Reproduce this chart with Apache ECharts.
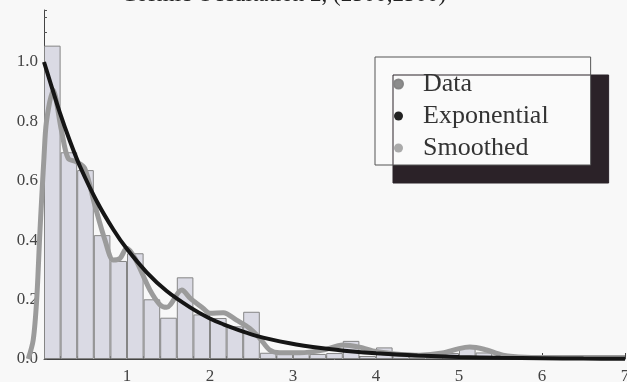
<!DOCTYPE html>
<html>
<head>
<meta charset="utf-8">
<script src="https://cdn.jsdelivr.net/npm/echarts@6/dist/echarts.min.js"></script>
<style>
  html, body { margin: 0; padding: 0; background: #f8f8f8; }
  #main { width: 627px; height: 382px; }
</style>
</head>
<body>
<div id="main"></div>
<script>
// histogram bins, width 0.2
var binLabels = ['0.0','0.2','0.4','0.6','0.8','1.0','1.2','1.4','1.6','1.8',
                 '2.0','2.2','2.4','2.6','2.8','3.0','3.2','3.4','3.6','3.8',
                 '4.0','4.2','4.4','4.6','4.8','5.0','5.2','5.4','5.6','5.8',
                 '6.0','6.2','6.4','6.6','6.8'];
var dataValues = [1.055, 0.696, 0.636, 0.417, 0.33, 0.356, 0.201, 0.139, 0.275, 0.15,
                  0.138, 0.11, 0.159, 0.021, 0.02, 0.02, 0.017, 0.02, 0.061, 0.01,
                  0.039, 0.018, 0.01, 0.008, 0.02, 0.04, 0.022, 0.008, 0.005, 0.005,
                  0.006, 0.005, 0.005, 0.004, 0.005];

// exponential curve
var expX = [0, 0.072, 0.19, 0.313, 0.434, 0.634, 0.835, 1.0, 1.237, 1.478, 1.76, 1.98,
            2.16, 2.56, 2.96, 3.36, 3.72, 4.0, 4.5, 5.0, 5.5, 6.0, 6.5, 7.0];
var expY = [1.0, 0.935, 0.83, 0.733, 0.648, 0.532, 0.436, 0.37, 0.292, 0.229, 0.174, 0.139,
            0.117, 0.078, 0.053, 0.036, 0.025, 0.019, 0.012, 0.007, 0.004, 0.0025, 0.0015, 0.001];

// smoothed density (starts a little left of zero)
var smoothX = [-0.19, -0.13, -0.088, -0.05, -0.03, 0.0, 0.03, 0.11, 0.21, 0.29, 0.39, 0.49,
               0.61, 0.735, 0.835, 0.916, 0.996, 1.096, 1.277, 1.40, 1.478, 1.66, 1.76, 1.92,
               2.0, 2.16, 2.32, 2.48, 2.60, 2.72, 2.84, 3.08, 3.36, 3.6, 3.8, 4.0, 4.2, 4.53,
               4.8, 5.0, 5.13, 5.3, 5.53, 5.8, 6.2, 6.6, 7.0];
var smoothY = [0, 0.064, 0.2, 0.424, 0.53, 0.68, 0.8, 0.905, 0.77, 0.676, 0.664, 0.642,
               0.52, 0.40, 0.333, 0.339, 0.373, 0.339, 0.232, 0.182, 0.174, 0.232, 0.205, 0.17,
               0.154, 0.156, 0.131, 0.103, 0.07, 0.03, 0.021, 0.021, 0.03, 0.047, 0.04, 0.025, 0.018, 0.013,
               0.02, 0.035, 0.04, 0.033, 0.013, 0.006, 0.005, 0.005, 0.005];

var xTicks = [1, 2, 3, 4, 5, 6, 7];

function pairs(xs, ys) {
  var out = [];
  for (var i = 0; i < xs.length; i++) out.push([xs[i], ys[i]]);
  return out;
}

var serif = 'Liberation Serif';
var yMax = 1.175;

var option = {
  backgroundColor: '#f8f8f8',
  animation: false,
  title: {
    text: 'Cosmic Occultation 2, (2500,2500)',
    left: 116,
    top: -22,
    textStyle: { fontFamily: serif, fontSize: 23, fontWeight: 'normal', color: '#222' }
  },
  grid: [
    { left: 44, right: 2, top: 10, bottom: 23, outerBoundsMode: 'none' },
    // same plot, widened by 0.2 to the left, for the smoothed curve
    { left: 27.4, right: 2, top: 10, bottom: 23, outerBoundsMode: 'none' }
  ],
  legend: {
    orient: 'vertical',
    left: 375,
    top: 57,
    padding: [14, 42, 4, 18],
    itemGap: 6,
    itemWidth: 9,
    itemHeight: 9,
    icon: 'circle',
    backgroundColor: '#fafafa',
    borderColor: '#555',
    borderWidth: 1,
    shadowColor: '#2b2228',
    shadowBlur: 0,
    shadowOffsetX: 18,
    shadowOffsetY: 18,
    textStyle: { fontFamily: serif, fontSize: 26, color: '#333', padding: [0, 0, 0, 15], lineHeight: 24 },
    data: [
      { name: 'Data', itemStyle: { color: '#8c8c8c' } },
      { name: 'Exponential', itemStyle: { color: '#222' } },
      { name: 'Smoothed', itemStyle: { color: '#aaaaaa' } }
    ]
  },
  xAxis: [
    {
      type: 'value',
      gridIndex: 0,
      min: 0,
      max: 7,
      interval: 1,
      axisLine: { lineStyle: { color: '#444', width: 1 } },
      axisTick: { inside: true, length: 6, lineStyle: { color: '#444' } },
      minorTick: { show: true, splitNumber: 5, length: 3, lineStyle: { color: '#555' } },
      splitLine: { show: false },
      axisLabel: {
        margin: 9,
        fontFamily: serif,
        fontSize: 17,
        color: '#444',
        formatter: function (v) { return xTicks.indexOf(v) >= 0 ? String(v) : ''; }
      }
    },
    {
      type: 'category',
      gridIndex: 0,
      position: 'bottom',
      show: false,
      boundaryGap: true,
      data: binLabels
    },
    {
      type: 'value',
      gridIndex: 1,
      min: -0.2,
      max: 7,
      show: false
    }
  ],
  yAxis: [
    {
      type: 'value',
      gridIndex: 0,
      position: 'left',
      min: 0,
      max: yMax,
      interval: 0.2,
      axisLine: { show: true, lineStyle: { color: '#444', width: 1 } },
      axisTick: { inside: true, length: 6, lineStyle: { color: '#444' } },
      splitLine: { show: false },
      axisLabel: {
        margin: 6,
        showMaxLabel: false,
        fontFamily: serif,
        fontSize: 17,
        color: '#444',
        formatter: function (v) { return v.toFixed(1); }
      }
    },
    {
      type: 'value',
      gridIndex: 0,
      position: 'left',
      min: 0,
      max: yMax,
      interval: 0.05,
      axisLine: { show: false },
      axisTick: { inside: true, length: 3, lineStyle: { color: '#555' } },
      axisLabel: { show: false },
      splitLine: { show: false }
    },
    {
      type: 'value',
      gridIndex: 1,
      min: 0,
      max: yMax,
      show: false
    }
  ],
  series: [
    {
      name: 'Data',
      type: 'bar',
      xAxisIndex: 1,
      yAxisIndex: 0,
      barCategoryGap: '0%',
      itemStyle: { color: '#dadae4', borderColor: '#858585', borderWidth: 1 },
      data: dataValues
    },
    {
      name: 'Smoothed',
      type: 'line',
      xAxisIndex: 2,
      yAxisIndex: 2,
      smooth: 0.3,
      showSymbol: false,
      lineStyle: { color: '#9b9b9b', width: 5 },
      itemStyle: { color: '#9b9b9b' },
      data: pairs(smoothX, smoothY)
    },
    {
      name: 'Exponential',
      type: 'line',
      xAxisIndex: 0,
      yAxisIndex: 0,
      smooth: 0.3,
      showSymbol: false,
      lineStyle: { color: '#151515', width: 4 },
      itemStyle: { color: '#151515' },
      data: pairs(expX, expY)
    }
  ]
};

var chart = echarts.init(document.getElementById('main'));
chart.setOption(option);
</script>
</body>
</html>
